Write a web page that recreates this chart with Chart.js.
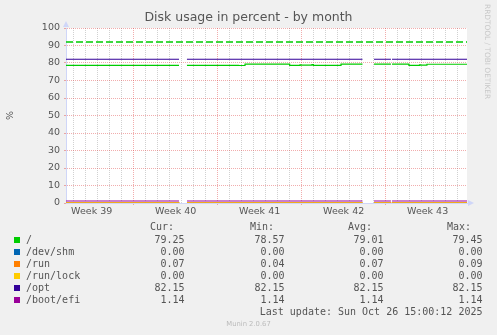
<!DOCTYPE html>
<html>
<head>
<meta charset="utf-8">
<script src="https://cdn.jsdelivr.net/npm/chart.js@4/dist/chart.umd.min.js"></script>
<style>
  body { margin: 0; background: #f0f0f0; width: 497px; height: 335px; overflow: hidden; position: relative; font-family: "DejaVu Sans", sans-serif; }
  #wrap { position: absolute; left: 0; top: 0; width: 497px; height: 222px; }
  .mono { position: absolute; font-family: "DejaVu Sans Mono", monospace; font-size: 10px; line-height: 12px; color: #555; white-space: pre; }
  .right { text-align: right; }
  .swatch { position: absolute; width: 6px; height: 6px; }
  #rrd { position: absolute; left: 483px; top: 4px; writing-mode: vertical-rl; font-size: 7.4px; color: #c8c8c8; line-height: 8px; }
  #munin { position: absolute; left: 0; width: 497px; top: 319px; text-align: center; font-size: 6.8px; color: #bbb; line-height: 10px; }
</style>
</head>
<body>
<div id="wrap"><canvas id="diskChart"></canvas></div>
<div id="rrd">RRDTOOL / TOBI OETIKER</div>
<div id="legend"></div>
<div id="munin">Munin 2.0.67</div>
<script>
// time axis in days since Mon Sep 22 00:00 (start of week 39)
const weekLabels = ['Week 39', 'Week 40', 'Week 41', 'Week 42', 'Week 43'];
const weekMid = [3.5, 10.5, 17.5, 24.5, 31.5];

// "/" changes a few times, so it gets its own sample times
const rootDays = [1.36, 10.78, 11.0, 11.44, 15.75, 16.28, 20.0, 20.86, 20.94, 21.86, 21.98, 24.28, 26.07, 26.5, 27.03, 28.44, 28.48, 28.53, 29.94, 30.82, 30.9, 31.44, 34.78];
const rootVals = [78.7, 78.7, null, 78.7, 78.57, 79.4, 78.7, 79.0, 78.8, 79.1, 78.7, 79.4, 79.4, null, 79.4, 79.4, null, 79.4, 78.7, 79.0, 78.8, 79.3, 79.3];

// the other mounts are flat, only the data gaps matter
const flatDays = [1.36, 10.78, 11.0, 11.44, 26.07, 26.5, 27.03, 28.44, 28.48, 28.53, 34.78];
const devShmVals = [0, 0, null, 0, 0, null, 0, 0, null, 0, 0];
const runVals = [0.07, 0.06, null, 0.05, 0.08, null, 0.09, 0.07, null, 0.07, 0.07];
const runLockVals = [0, 0, null, 0, 0, null, 0, 0, null, 0, 0];
const optVals = [82.15, 82.15, null, 82.15, 82.15, null, 82.15, 82.15, null, 82.15, 82.15];
const bootEfiVals = [1.14, 1.14, null, 1.14, 1.14, null, 1.14, 1.14, null, 1.14, 1.14];

// warning threshold for "/"
const warnDays = [1.36, 34.78];
const warnVals = [92, 92];

const mounts = ['/', '/dev/shm', '/run', '/run/lock', '/opt', '/boot/efi'];
const colors = ['#00cc00', '#0066b3', '#ff8000', '#ffcc00', '#330099', '#990099'];
const curVals = [79.25, 0.00, 0.07, 0.00, 82.15, 1.14];
const minVals = [78.57, 0.00, 0.04, 0.00, 82.15, 1.14];
const avgVals = [79.01, 0.00, 0.07, 0.00, 82.15, 1.14];
const maxVals = [79.45, 0.00, 0.09, 0.00, 82.15, 1.14];
const lastUpdate = 'Last update: Sun Oct 26 15:00:12 2025';

const seriesDays = [rootDays, flatDays, flatDays, flatDays, flatDays, flatDays];
const seriesVals = [rootVals, devShmVals, runVals, runLockVals, optVals, bootEfiVals];

function points(xs, ys) {
  return xs.map((x, i) => ({ x: x, y: ys[i] }));
}

const minorGrid = 'rgba(140,140,140,0.4)';
const majorGrid = 'rgba(222,60,60,0.42)';
const axisColor = '#cfd6f8';

const datasets = mounts.map((m, i) => ({
  label: m,
  data: points(seriesDays[i], seriesVals[i]),
  borderColor: colors[i],
  borderWidth: 1.2,
  pointRadius: 0,
  stepped: 'before',
  fill: false,
  order: mounts.length - i
}));
datasets.push({
  label: 'warning',
  data: points(warnDays, warnVals),
  borderColor: '#00cc00',
  borderWidth: 1.3,
  borderDash: [7, 3],
  pointRadius: 0,
  fill: false,
  order: 0
});

const canvasBg = {
  id: 'canvasBg',
  beforeDraw(chart) {
    const { ctx, chartArea: a } = chart;
    ctx.save();
    ctx.fillStyle = '#ffffff';
    ctx.fillRect(a.left, a.top, a.right - a.left, a.bottom - a.top);
    ctx.restore();
  }
};

const arrows = {
  id: 'arrows',
  afterDraw(chart) {
    const { ctx, chartArea: a } = chart;
    ctx.save();
    ctx.fillStyle = axisColor;
    ctx.beginPath();
    ctx.moveTo(a.left, a.top - 7);
    ctx.lineTo(a.left - 3, a.top - 1);
    ctx.lineTo(a.left + 3, a.top - 1);
    ctx.closePath();
    ctx.fill();
    ctx.beginPath();
    ctx.moveTo(a.right + 7, a.bottom);
    ctx.lineTo(a.right + 1, a.bottom - 3);
    ctx.lineTo(a.right + 1, a.bottom + 3);
    ctx.closePath();
    ctx.fill();
    ctx.restore();
  }
};

new Chart(document.getElementById('diskChart'), {
  type: 'line',
  data: { datasets: datasets },
  options: {
    responsive: true,
    maintainAspectRatio: false,
    animation: false,
    layout: { padding: 0 },
    plugins: {
      legend: { display: false },
      tooltip: { enabled: false },
      title: {
        display: true,
        text: 'Disk usage in percent - by month',
        color: '#555',
        font: { family: 'DejaVu Sans', size: 12.5, weight: 'normal' },
        padding: { top: 10.5, bottom: 2.5 }
      }
    },
    scales: {
      x: {
        type: 'linear',
        min: 1.36,
        max: 34.78,
        afterBuildTicks: axis => {
          const ticks = [];
          for (let d = 2; d <= 34; d++) ticks.push(d);
          weekMid.forEach(v => ticks.push(v));
          ticks.sort((p, q) => p - q);
          axis.ticks = ticks.map(v => ({ value: v }));
        },
        afterFit: scale => { scale.height = 19; },
        ticks: {
          autoSkip: false,
          maxRotation: 0,
          padding: 1,
          color: '#555',
          font: { family: 'DejaVu Sans', size: 9.5 },
          callback: v => {
            const k = weekMid.indexOf(v);
            return k >= 0 ? weekLabels[k] : '';
          }
        },
        grid: {
          lineWidth: 1,
          tickLength: 2,
          color: c => c.tick && c.tick.value % 7 === 0 ? majorGrid : (c.tick && Number.isInteger(c.tick.value) ? minorGrid : 'rgba(0,0,0,0)'),
          tickColor: c => c.tick && c.tick.value % 7 === 0 ? majorGrid : 'rgba(0,0,0,0)'
        },
        border: { color: axisColor, dash: [1, 1] }
      },
      y: {
        min: 0,
        max: 100,
        afterFit: scale => { scale.width = 66; },
        ticks: {
          stepSize: 5,
          padding: 4,
          color: '#555',
          font: { family: 'DejaVu Sans', size: 9.5 },
          callback: v => v % 10 === 0 ? v : ''
        },
        grid: {
          lineWidth: 1,
          tickLength: 2,
          color: c => c.tick && c.tick.value % 10 === 0 ? majorGrid : minorGrid,
          tickColor: c => c.tick && c.tick.value % 10 === 0 ? majorGrid : 'rgba(0,0,0,0)'
        },
        border: { color: axisColor, dash: [1, 1] },
        title: {
          display: true,
          text: '%',
          color: '#555',
          font: { family: 'DejaVu Sans', size: 9.5 },
          padding: { top: 5, bottom: 0 }
        }
      },
      // empty right-hand strip, keeps the title centred on the whole image
      yRight: {
        position: 'right',
        min: 0,
        max: 100,
        afterFit: scale => { scale.width = 30; },
        grid: { display: false },
        ticks: { display: false },
        border: { display: false }
      }
    }
  },
  plugins: [canvasBg, arrows]
});

// legend block under the graph, laid out like rrdtool's GPRINT lines
const legend = document.getElementById('legend');
const valueRights = [184.5, 284.5, 383.5, 482.5];
const headerLefts = [150, 250, 348, 447];
const headers = ['Cur:', 'Min:', 'Avg:', 'Max:'];

function addText(text, left, top, right) {
  const el = document.createElement('div');
  el.className = 'mono';
  el.textContent = text;
  el.style.top = top + 'px';
  if (right !== undefined) {
    el.className += ' right';
    el.style.left = (right - 300) + 'px';
    el.style.width = '300px';
  } else {
    el.style.left = left + 'px';
  }
  legend.appendChild(el);
}

headers.forEach((h, k) => addText(h, headerLefts[k], 221));
mounts.forEach((m, i) => {
  const cy = 240 + 12 * i;
  const sw = document.createElement('div');
  sw.className = 'swatch';
  sw.style.left = '14px';
  sw.style.top = (cy - 3) + 'px';
  sw.style.background = colors[i];
  legend.appendChild(sw);
  addText(m, 26, cy - 6);
  [curVals, minVals, avgVals, maxVals].forEach((vals, k) => {
    addText(vals[i].toFixed(2), 0, cy - 6, valueRights[k]);
  });
});
addText(lastUpdate, 0, 305.5, 482.5);
</script>
</body>
</html>
